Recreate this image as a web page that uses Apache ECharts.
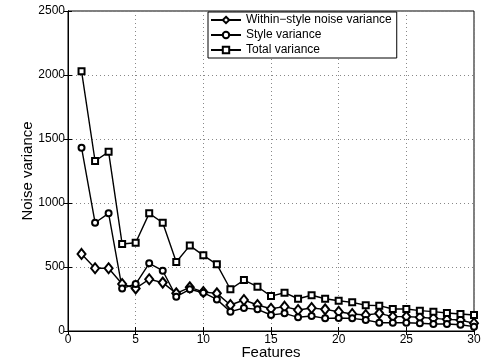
<!DOCTYPE html>
<html>
<head>
<meta charset="utf-8">
<script src="https://cdn.jsdelivr.net/npm/echarts@6/dist/echarts.min.js"></script>
<style>
html,body{margin:0;padding:0;background:#fff;}
#chart{width:481px;height:360px;}
</style>
</head>
<body>
<div id="chart"></div>
<script>
var features = [1,2,3,4,5,6,7,8,9,10,11,12,13,14,15,16,17,18,19,20,21,22,23,24,25,26,27,28,29,30];
var withinStyle = [602,490,490,367,333,404,378,294,341,305,294,203,242,203,174,190,164,180,169,150,133,125,138,112,112,107,99,91,86,60];
var styleVar = [1432,846,919,333,367,529,471,268,326,299,247,151,180,169,125,138,107,117,99,102,99,86,65,65,65,60,55,55,49,34];
var totalVar = [2030,1328,1400,680,690,919,846,539,667,591,521,326,398,346,273,299,252,279,252,236,224,201,198,172,172,159,151,141,133,125];
var seriesNames = ['Within\u2212style noise variance','Style variance','Total variance'];
var xTicks = {min:0, max:30, interval:5};
var yTicks = {min:0, max:2500, interval:500};

function pairs(vals){ return features.map(function(f,i){ return [f, vals[i]]; }); }

var font = 'Liberation Sans, Arial, Helvetica, sans-serif';
var chart = echarts.init(document.getElementById('chart'), null, {renderer:'canvas'});
function mkSeries(name, vals, sym, size){
  return {
    name: name, type:'line', data: pairs(vals), xAxisIndex:0, yAxisIndex:0,
    symbol: sym, symbolSize: size, showAllSymbol: true,
    lineStyle:{color:'#000', width:1.4},
    itemStyle:{color:'#000', borderColor:'#000', borderWidth:1.4},
    emphasis:{disabled:true}, animation:false
  };
}
var plain = function(v){ return String(v); };
var gridSplit = {show:true, lineStyle:{color:'#888', type:[1,3], width:1}};
chart.setOption({
  backgroundColor:'#fff',
  animation:false,
  grid:{left:68, right:7, top:11, bottom:29, containLabel:false, outerBoundsMode:'none',
        show:true, borderColor:'#000', borderWidth:1, backgroundColor:'transparent'},
  legend:{
    orient:'vertical', left:208, top:12,
    data: seriesNames,
    backgroundColor:'#fff', borderColor:'#000', borderWidth:1,
    padding:[1,5,1,2], itemWidth:30, itemHeight:8, itemGap:1,
    textStyle:{fontFamily:font, fontSize:12, color:'#000', lineHeight:14},
    selectedMode:false
  },
  xAxis:[{
    type:'value', min:xTicks.min, max:xTicks.max, interval:xTicks.interval,
    name:'Features', nameLocation:'middle', nameGap:14, nameMoveOverlap:false,
    nameTextStyle:{fontFamily:font, fontSize:15, color:'#000'},
    axisLine:{show:true, lineStyle:{color:'#000', width:1}},
    axisTick:{show:true, inside:true, length:4, lineStyle:{color:'#000'}},
    axisLabel:{fontFamily:font, fontSize:12, color:'#000', margin:3, formatter:plain},
    splitLine:gridSplit
  },{
    type:'value', position:'top', min:xTicks.min, max:xTicks.max, interval:xTicks.interval,
    axisLine:{show:true, lineStyle:{color:'#000'}},
    axisTick:{show:true, inside:true, length:4, lineStyle:{color:'#000'}},
    axisLabel:{show:false}, splitLine:{show:false}
  }],
  yAxis:[{
    type:'value', min:yTicks.min, max:yTicks.max, interval:yTicks.interval,
    name:'Noise variance', nameLocation:'middle', nameGap:33, nameRotate:90, nameMoveOverlap:false,
    nameTextStyle:{fontFamily:font, fontSize:15, color:'#000'},
    axisLine:{show:true, lineStyle:{color:'#000', width:1}},
    axisTick:{show:true, inside:true, length:4, lineStyle:{color:'#000'}},
    axisLabel:{fontFamily:font, fontSize:12, color:'#000', margin:3, formatter:plain},
    splitLine:gridSplit
  },{
    type:'value', position:'right', min:yTicks.min, max:yTicks.max, interval:yTicks.interval,
    axisLine:{show:true, lineStyle:{color:'#000'}},
    axisTick:{show:true, inside:true, length:4, lineStyle:{color:'#000'}},
    axisLabel:{show:false}, splitLine:{show:false}
  }],
  series:[
    mkSeries(seriesNames[0], withinStyle, 'emptyDiamond', [8,10]),
    mkSeries(seriesNames[1], styleVar, 'emptyCircle', 6),
    mkSeries(seriesNames[2], totalVar, 'emptyRect', 6)
  ]
});
</script>
</body>
</html>
